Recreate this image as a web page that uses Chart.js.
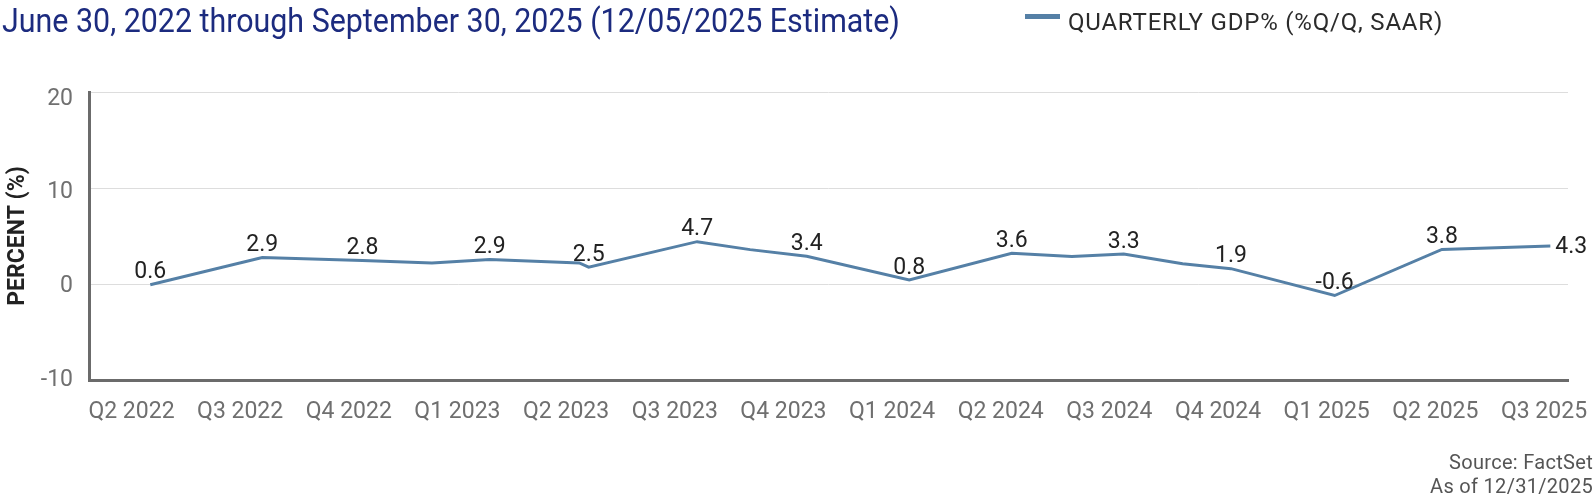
<!DOCTYPE html>
<html lang="en">
<head>
<meta charset="UTF-8" />
<title>Quarterly GDP</title>
<script src="https://cdn.jsdelivr.net/npm/chart.js"></script>
<style>
    body { margin: 0; background: #fff; font-family: Roboto, sans-serif; }
    .wrap { position: relative; width: 1595px; height: 495px; overflow: hidden; }
    #gdpChart { position: absolute; left: 0; top: 0; }
    #title {
        position: absolute; left: 2px; top: 1px;
        font-size: 33px; line-height: 40px; color: #1c2b7f;
        white-space: nowrap; transform-origin: left top;
    }
    .swatch { position: absolute; left: 1025px; top: 14px; width: 35px; height: 5px; background: #5580a6; }
    .legend-text {
        position: absolute; left: 1068px; top: 10px;
        font-size: 24px; line-height: 24px; letter-spacing: 0.8px; color: #2b2b2b; white-space: nowrap;
    }
    .source {
        position: absolute; right: 2px; top: 451px; text-align: right;
        font-size: 20px; line-height: 23.5px; letter-spacing: 0.3px; color: #555;
    }
</style>
</head>
<body>
<div class="wrap">
    <canvas id="gdpChart" width="1595" height="495"></canvas>
    <div id="title">June 30, 2022 through September 30, 2025 (12/05/2025 Estimate)</div>
    <div class="swatch"></div>
    <div class="legend-text">QUARTERLY GDP% (%Q/Q, SAAR)</div>
    <div class="source">Source: FactSet<br />As of 12/31/2025</div>
</div>

<script>
    // axis labels
    const quarterLabels = ['Q2 2022', 'Q3 2022', 'Q4 2022', 'Q1 2023', 'Q2 2023', 'Q3 2023', 'Q4 2023',
        'Q1 2024', 'Q2 2024', 'Q3 2024', 'Q4 2024', 'Q1 2025', 'Q2 2025', 'Q3 2025'];
    const yTicks = [-10, 0, 10, 20];

    // line points (estimate dates) and values
    const pointDates = ['2022-06-30', '2022-10-03', '2022-12-27', '2023-02-24', '2023-04-14', '2023-06-29',
        '2023-07-07', '2023-10-07', '2023-11-21', '2024-01-08', '2024-04-04', '2024-06-30', '2024-08-20',
        '2024-10-03', '2024-11-22', '2025-01-02', '2025-03-31', '2025-06-30', '2025-09-30'];
    const gdpValues = [-0.07, 2.75, 2.45, 2.2, 2.55, 2.2, 1.75, 4.41, 3.58, 2.88, 0.42, 3.2, 2.86,
        3.12, 2.12, 1.6, -1.2, 3.6, 3.95];
    // printed value labels (null = no label at that point)
    const pointLabels = ['0.6', '2.9', '2.8', null, '2.9', null, '2.5', '4.7', null, '3.4', '0.8', '3.6', null,
        '3.3', null, '1.9', '-0.6', '3.8', '4.3'];

    const toDay = s => Date.parse(s + 'T00:00:00Z') / 86400000;

    Chart.defaults.font.family = 'Roboto';

    const pointLabelPlugin = {
        id: 'pointLabels',
        afterDatasetsDraw(chart) {
            const ctx = chart.ctx;
            const meta = chart.getDatasetMeta(0);
            ctx.save();
            ctx.font = '23px Roboto';
            ctx.fillStyle = '#222';
            ctx.textBaseline = 'middle';
            meta.data.forEach((pt, i) => {
                const txt = pointLabels[i];
                if (!txt) return;
                const last = i === meta.data.length - 1;
                ctx.textAlign = last ? 'left' : 'center';
                ctx.fillText(txt, last ? pt.x + 5 : pt.x, last ? pt.y + 1 : pt.y - 12);
            });
            ctx.restore();
        }
    };

    const gdpChart = new Chart(document.getElementById('gdpChart'), {
        type: 'line',
        data: {
            datasets: [{
                label: 'QUARTERLY GDP% (%Q/Q, SAAR)',
                data: pointDates.map((d, i) => ({ x: toDay(d), y: gdpValues[i] })),
                borderColor: '#5580a6',
                borderWidth: 3,
                pointRadius: 0,
                tension: 0,
                fill: false
            }]
        },
        options: {
            responsive: false,
            animation: false,
            layout: { padding: { left: 0, right: 27, top: 92, bottom: 0 } },
            plugins: { legend: { display: false }, tooltip: { enabled: false } },
            scales: {
                x: {
                    type: 'linear',
                    display: false,
                    min: toDay('2022-05-09'),
                    max: toDay('2025-10-15')
                },
                xq: {
                    type: 'linear',
                    position: 'bottom',
                    min: -0.391,
                    max: 13.221,
                    afterBuildTicks: s => { s.ticks = quarterLabels.map((_, i) => ({ value: i })); },
                    afterFit: s => { s.height = 115; s.paddingLeft = 0; s.paddingRight = 0; },
                    ticks: {
                        callback: v => quarterLabels[v],
                        autoSkip: false,
                        maxRotation: 0,
                        color: '#6f6f6f',
                        font: { size: 23 },
                        padding: 10
                    },
                    grid: { display: false },
                    border: { color: '#6b6b6b', width: 3 }
                },
                // grid lines
                y: {
                    position: 'left',
                    min: -10,
                    max: 20,
                    afterBuildTicks: s => { s.ticks = yTicks.map(v => ({ value: v })); },
                    afterFit: s => { s.width = 0; s.paddingTop = 0; s.paddingBottom = 0; },
                    ticks: { display: false },
                    grid: { color: '#dddddd', lineWidth: 1, drawTicks: false },
                    border: { display: false }
                },
                // tick labels, axis line and title
                yl: {
                    position: 'left',
                    min: -10,
                    max: 20.747,
                    afterBuildTicks: s => { s.ticks = yTicks.map(v => ({ value: v })); },
                    afterFit: s => { s.width = 89; s.paddingTop = 0; s.paddingBottom = 0; },
                    ticks: { color: '#707070', font: { size: 23 }, padding: 16 },
                    grid: { display: false, drawTicks: false },
                    border: { color: '#6b6b6b', width: 3 },
                    title: {
                        display: true,
                        text: 'PERCENT (%)',
                        color: '#222',
                        font: { size: 23, weight: 'bold' },
                        padding: { top: 4, bottom: 0 }
                    }
                }
            }
        },
        plugins: [pointLabelPlugin]
    });

    // squeeze the heading to the narrow width of the original
    document.fonts.ready.then(() => {
        const t = document.getElementById('title');
        t.style.transform = `scaleX(${898 / t.offsetWidth})`;
    });
</script>
</body>
</html>
